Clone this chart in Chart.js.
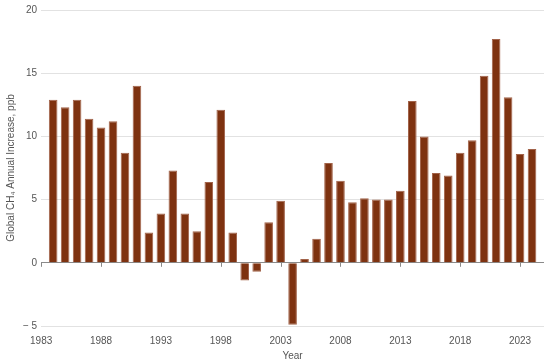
<!DOCTYPE html>
<html>
<head>
<meta charset="utf-8">
<script src="https://cdn.jsdelivr.net/npm/chart.js@4.4.0/dist/chart.umd.min.js"></script>
<style>
  html, body { margin: 0; padding: 0; background: #fff; }
  #wrap { width: 550px; height: 364px; }
</style>
</head>
<body>
<div id="wrap"><canvas id="ch4Chart" width="550" height="364"></canvas></div>
<script>
// years with a reported annual increase
const years = [
    1984, 1985, 1986, 1987, 1988, 1989, 1990, 1991, 1992, 1993,
    1994, 1995, 1996, 1997, 1998, 1999, 2000, 2001, 2002, 2003,
    2004, 2005, 2006, 2007, 2008, 2009, 2010, 2011, 2012, 2013,
    2014, 2015, 2016, 2017, 2018, 2019, 2020, 2021, 2022, 2023, 2024
];
// global CH4 annual increase, ppb
const increases = [
    12.9, 12.3, 12.9, 11.4, 10.7, 11.2, 8.7, 14.0, 2.4, 3.9,
    7.3, 3.9, 2.5, 6.4, 12.1, 2.4, -1.4, -0.7, 3.2, 4.9,
    -4.9, 0.3, 1.9, 7.9, 6.5, 4.8, 5.1, 5.0, 5.0, 5.7,
    12.8, 10.0, 7.1, 6.9, 8.7, 9.7, 14.8, 17.7, 13.1, 8.6, 9.0
];
const xTicks = [1983, 1988, 1993, 1998, 2003, 2008, 2013, 2018, 2023];
const yTicks = [-5, 0, 5, 10, 15, 20];

const FONT = "'Liberation Sans', 'DejaVu Sans', sans-serif";

// small tick marks hanging off the zero line
const zeroTicks = {
    id: 'zeroTicks',
    afterDatasetsDraw(chart) {
        const { ctx, scales: { x, y } } = chart;
        const y0 = y.getPixelForValue(0);
        ctx.save();
        ctx.strokeStyle = '#8a8a8a';
        ctx.lineWidth = 1;
        xTicks.forEach(t => {
            const px = Math.round(x.getPixelForValue(t)) + 0.5;
            ctx.beginPath();
            ctx.moveTo(px, y0);
            ctx.lineTo(px, y0 + 4);
            ctx.stroke();
        });
        ctx.restore();
    }
};

const ctx = document.getElementById('ch4Chart').getContext('2d');
new Chart(ctx, {
    type: 'bar',
    data: {
        datasets: [{
            data: years.map((yr, i) => ({ x: yr, y: increases[i] })),
            backgroundColor: '#7e3210',
            borderColor: '#a2634a',
            borderWidth: 1,
            barPercentage: 0.9,
            categoryPercentage: 0.8
        }]
    },
    options: {
        responsive: false,
        animation: false,
        layout: { padding: { top: 0, right: 6, bottom: 2, left: 2 } },
        plugins: {
            legend: { display: false },
            tooltip: { enabled: false }
        },
        scales: {
            x: {
                type: 'linear',
                offset: false,
                min: 1983,
                max: 2025,
                afterBuildTicks: axis => { axis.ticks = xTicks.map(v => ({ value: v })); },
                grid: { display: false, drawTicks: false, offset: false },
                border: { display: false },
                ticks: {
                    color: '#555',
                    font: { family: FONT, size: 10 },
                    padding: 9,
                    maxRotation: 0,
                    callback: v => String(v)
                },
                title: {
                    display: true,
                    text: 'Year',
                    color: '#555',
                    font: { family: FONT, size: 10 },
                    padding: { top: -6, bottom: 0 }
                }
            },
            y: {
                min: -5,
                max: 20,
                afterBuildTicks: axis => { axis.ticks = yTicks.map(v => ({ value: v })); },
                grid: {
                    color: ctx => ctx.tick && ctx.tick.value === 0 ? '#8a8a8a' : '#e2e2e2',
                    drawTicks: false
                },
                border: { display: false },
                ticks: {
                    color: '#555',
                    font: { family: FONT, size: 10 },
                    padding: 4,
                    callback: v => v < 0 ? '\u2212 ' + Math.abs(v) : String(v)
                },
                title: {
                    display: true,
                    text: 'Global CH\u2084 Annual Increase, ppb',
                    color: '#555',
                    font: { family: FONT, size: 10 },
                    padding: { top: 3, bottom: 2 }
                }
            }
        }
    },
    plugins: [zeroTicks]
});
</script>
</body>
</html>
